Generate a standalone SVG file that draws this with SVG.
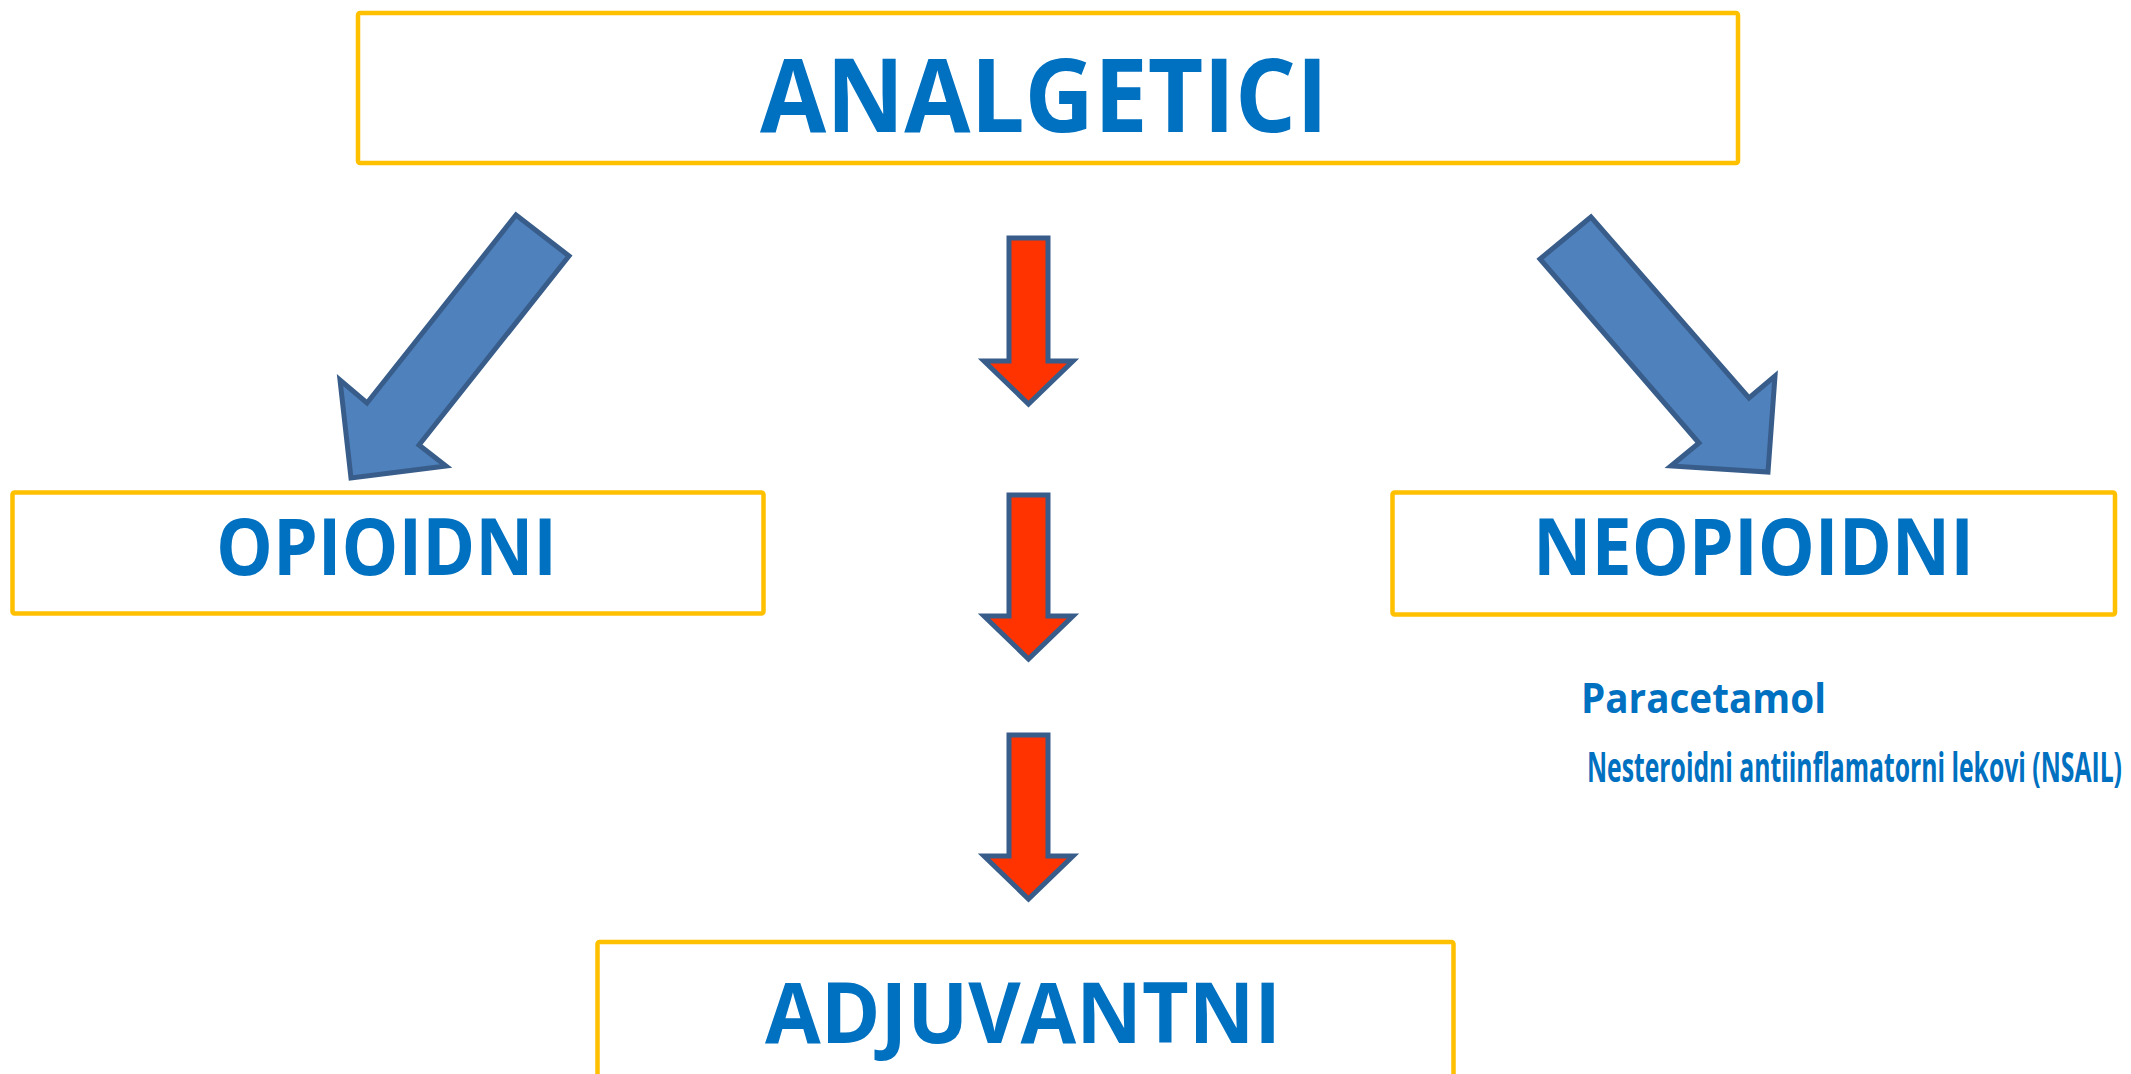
<svg xmlns="http://www.w3.org/2000/svg" width="2131" height="1074" viewBox="0 0 2131 1074">
<style>
.box{fill:#FFFFFF;stroke:#FFC000;stroke-width:4.5;stroke-linejoin:round}
.t{font-family:"Open Sans",Lato,"Liberation Sans",sans-serif;font-weight:700;fill:#0070C0}
.blue{fill:#4F81BD;stroke:#385D8A;stroke-width:5;stroke-linejoin:miter}
.red{fill:#FF3300;stroke:#385D8A;stroke-width:5;stroke-linejoin:miter}
</style>
<rect width="2131" height="1074" fill="#FFFFFF"/>
<g id="connectors">
<polygon class="blue" points="516,215 569,256 419,445 446,466 351,478 340,380 367,403"/>
<polygon class="blue" points="1591,217 1540,259 1699,443 1671,466 1768,472 1775,376 1749,398"/>
<polygon class="red" points="1009,238 1048,238 1048,361 1073,361 1028.5,404 984,361 1009,361"/>
<polygon class="red" points="1009,495 1048,495 1048,616 1073,616 1028.5,659 984,616 1009,616"/>
<polygon class="red" points="1009,735 1048,735 1048,856 1073,856 1028.5,899 984,856 1009,856"/>
</g>
<g id="analgetici">
<rect class="box" x="358" y="13" width="1380" height="150" rx="2"/>
<text class="t" x="760" y="132" font-size="103" textLength="568" lengthAdjust="spacingAndGlyphs">ANALGETICI</text>
</g>
<g id="opioidni">
<rect class="box" x="12.5" y="492.5" width="751" height="121" rx="2"/>
<text class="t" x="216" y="575" font-size="78" textLength="341" lengthAdjust="spacingAndGlyphs">OPIOIDNI</text>
</g>
<g id="neopioidni">
<rect class="box" x="1392.5" y="492.5" width="722.5" height="122" rx="2"/>
<text class="t" x="1533" y="575" font-size="78" textLength="441" lengthAdjust="spacingAndGlyphs">NEOPIOIDNI</text>
</g>
<g id="neopioidni-list">
<text class="t" x="1581" y="713" font-size="42" textLength="245" lengthAdjust="spacingAndGlyphs">Paracetamol</text>
<text class="t" x="1587" y="782" font-size="41" textLength="535" lengthAdjust="spacingAndGlyphs">Nesteroidni antiinflamatorni lekovi (NSAIL)</text>
</g>
<g id="adjuvantni">
<rect class="box" x="597.5" y="942" width="856" height="200" rx="2"/>
<text class="t" x="765" y="1043" font-size="84" textLength="516" lengthAdjust="spacingAndGlyphs">ADJUVANTNI</text>
</g>
</svg>
